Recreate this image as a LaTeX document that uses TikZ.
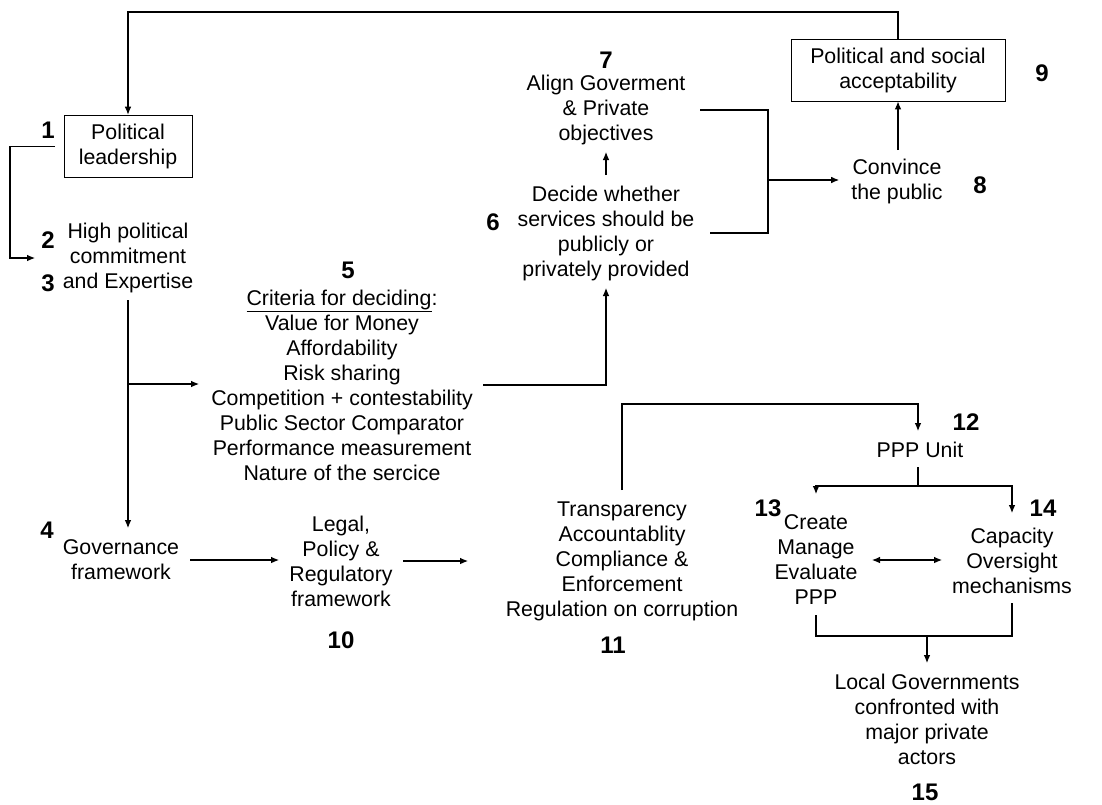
\documentclass[tikz,border=0pt]{standalone}
\usepackage{fontspec}
\setmainfont{Liberation Sans}
\usetikzlibrary{calc,arrows.meta}
\begin{document}
\begin{tikzpicture}[x=0.75pt,y=-0.75pt,
  txt/.style={align=center,font=\fontsize{16}{18.75}\selectfont,inner sep=0pt},
  boxed/.style={txt,draw,line width=0.7pt},
  num/.style={font=\fontsize{18}{20}\selectfont\bfseries,inner sep=0pt},
  conn/.style={line width=0.8pt},
  arr/.style={conn,-{Latex[length=6pt,width=5pt]}},
  arrb/.style={conn,{Latex[length=6pt,width=5pt]}-{Latex[length=6pt,width=5pt]}}]
\useasboundingbox (0,0) rectangle (1102,804);
% nodes
\node[boxed,minimum width=96pt,minimum height=47pt] (n1) at (128,146.5) {Political\\leadership};
\node[num] (k1) at (48,130) {1};
\node[txt] (n2) at (128,258) {High political\\commitment\\and Expertise};
\node[num] (k2) at (48,240) {2};
\node[num] (k3) at (48,283) {3};
\node[txt] (n5) at (342,385) {\underline{Criteria for deciding}:\\Value for Money\\Affordability\\Risk sharing\\Competition + contestability\\Public Sector Comparator\\Performance measurement\\Nature of the sercice};
\node[num] (k5) at (348,270) {5};
\node[txt] (n6) at (606,233) {Decide whether\\services should be\\publicly or\\privately provided};
\node[num] (k6) at (493,222) {6};
\node[txt] (n7) at (606,110) {Align Goverment\\\& Private\\objectives};
\node[num] (k7) at (606,60) {7};
\node[txt] (n8) at (897,181) {Convince\\the public};
\node[num] (k8) at (980,185) {8};
\node[boxed,minimum width=160.5pt,minimum height=46.5pt] (n9) at (898,70) {Political and social\\acceptability};
\node[num] (k9) at (1042,73) {9};
\node[txt] (n4) at (121,560) {Governance\\framework};
\node[num] (k4) at (47,530) {4};
\node[txt] (n10) at (341,561) {Legal,\\Policy \&\\Regulatory\\framework};
\node[num] (k10) at (341,640) {10};
\node[txt] (n11) at (622,561) {Transparency\\Accountablity\\Compliance \&\\Enforcement\\Regulation on corruption};
\node[num] (k11) at (613,645) {11};
\node[txt] (n12) at (920,450) {PPP Unit};
\node[num] (k12) at (966,422) {12};
\node[txt] (n13) at (816,560) {Create\\Manage\\Evaluate\\PPP};
\node[num] (k13) at (768,508) {13};
\node[txt] (n14) at (1012,561) {Capacity\\Oversight\\mechanisms};
\node[num] (k14) at (1043,508) {14};
\node[txt] (n15) at (927,719) {Local Governments\\confronted with\\major private\\actors};
\node[num] (k15) at (925,792) {15};
% connectors
\draw[arr] (n9.north) -- (n9.north |- 0,12) -| (n1.north);
\draw[arr] (n1.west -| 55,0) -- (n1.west -| 10,0) |- (n2.west -| 35,0);
\draw[arr] (n2.south |- 0,300) -- (n2.south |- 0,528);
\draw[arr] (n2.south |- 0,384) -- ($(n5.west |- 0,384)+(-12,0)$);
\draw[arr] (n5.east -| 483,0) -| (n6.south |- 0,288);
\draw[arr] (n6.north |- 0,175) -- (n7.south |- 0,152);
\coordinate (j) at (768,180);
\draw[conn] (n7.east -| 700,0) -| (j);
\draw[conn] (n6.east -| 710,0) -| (j);
\draw[arr] (j) -- ($(n8.west |- j)+(-12,0)$);
\draw[arr] (n9.south |- 0,150) -- (n9.south);
\draw[arr] (n4.east -| 190,0) -- (n4.east -| 279,0);
\draw[arr] (n10.west -| 403,560) -- (n10.west -| 468,560);
\coordinate (s12) at (918,486);
\draw[arr] (n11.north |- 0,490) -- (n11.north |- 0,404) -| (s12 |- 0,431);
\draw[conn] (s12 |- n12.south) ++(0,9) -- (s12);
\draw[arr] (s12) -| (n13.north |- 0,494);
\draw[arr] (s12) -| (n14.north |- 0,513);
\draw[arrb] (n13.east -| 872,0) -- (n13.east -| 942,0);
\draw[conn] (n13.south |- 0,615) -- (n13.south |- 0,636) -- (n14.south |- 0,636) -- (n14.south |- 0,603);
\draw[arr] (n15.north |- 0,636) -- (n15.north |- 0,663);
\end{tikzpicture}
\end{document}
